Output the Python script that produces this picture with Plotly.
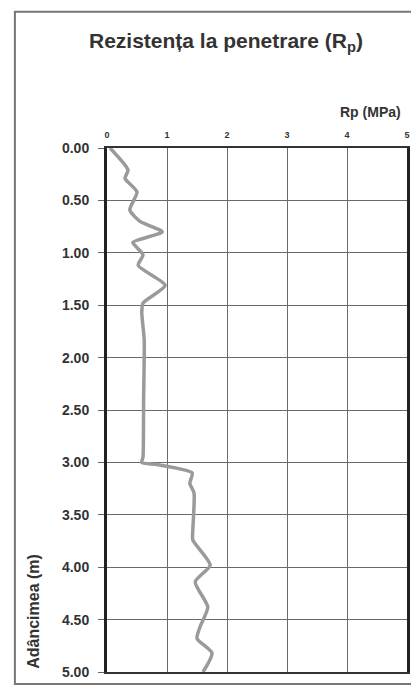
import plotly.graph_objects as go

# Penetration resistance profile
adancime = [0.00, 0.21, 0.29, 0.42, 0.59, 0.70, 0.80, 0.90, 0.95, 1.02, 1.12, 1.31,
            1.48, 1.57, 1.83, 2.40, 2.95, 3.00, 3.02, 3.10, 3.20, 3.29, 3.65, 3.74,
            3.98, 4.14, 4.38, 4.57, 4.68, 4.82, 5.00]
rp = [0.05, 0.35, 0.30, 0.50, 0.38, 0.55, 0.92, 0.43, 0.50, 0.60, 0.52, 0.97,
      0.60, 0.58, 0.62, 0.61, 0.60, 0.58, 0.83, 1.42, 1.38, 1.45, 1.43, 1.43,
      1.72, 1.47, 1.68, 1.55, 1.50, 1.75, 1.60]

y_ticks = [0, 0.5, 1, 1.5, 2, 2.5, 3, 3.5, 4, 4.5, 5]
x_ticks = [0, 1, 2, 3, 4, 5]

fig = go.Figure()
fig.add_trace(go.Scatter(
    x=rp, y=adancime, mode="lines",
    line=dict(color="#9a9a9a", width=3.5, shape="spline", smoothing=0.6),
    showlegend=False, hoverinfo="skip"
))

font = "Liberation Sans, Arial, sans-serif"

fig.update_layout(
    width=411, height=695,
    margin=dict(l=107, r=4, t=148, b=23),
    paper_bgcolor="white", plot_bgcolor="white",
    font=dict(family=font, color="#333333"),
    xaxis=dict(
        side="top", range=[0, 5], tickvals=x_ticks, ticktext=[str(v) for v in x_ticks],
        tickfont=dict(size=9, color="#333333", weight="bold"),
        showgrid=True, gridcolor="#6a6a6a", gridwidth=1,
        showline=True, linecolor="#333333", linewidth=2, mirror=True,
        ticks="", ticklabelstandoff=4, ticklabeloverflow="allow", automargin=False,
        zeroline=False, fixedrange=True
    ),
    yaxis=dict(
        range=[5, 0], tickvals=y_ticks, tickformat=".2f",
        tickfont=dict(size=14, color="#333333", weight="bold"),
        showgrid=True, gridcolor="#6a6a6a", gridwidth=1,
        showline=True, linecolor="#222222", linewidth=3, mirror=True,
        ticks="outside", ticklen=6, tickcolor="#666666", ticklabelstandoff=6,
        automargin=False, zeroline=False, fixedrange=True
    ),
    annotations=[
        dict(text="Rezistența la penetrare (R<sub>p</sub>)", xref="paper", yref="paper",
             x=0.397, y=1.202, xanchor="center", yanchor="middle", showarrow=False,
             font=dict(size=21, color="#333333", weight="bold")),
        dict(text="Rp (MPa)", xref="paper", yref="paper",
             x=0.987, y=1.069, xanchor="right", yanchor="middle", showarrow=False,
             font=dict(size=14, color="#333333", weight="bold")),
        dict(text="Adâncimea (m)", xref="paper", yref="paper", textangle=-90,
             x=-0.243, y=0.115, xanchor="center", yanchor="middle", showarrow=False,
             font=dict(size=16, color="#333333", weight="bold")),
    ],
    shapes=[
        dict(type="rect", xref="paper", yref="paper",
             x0=-0.307, x1=1.017, y0=-0.023, y1=1.26,
             line=dict(color="#777777", width=2), layer="below"),
    ],
)

# drop the default 8px body margin so the figure fills the window exactly
fig.write_html("out.html",
               config={"displayModeBar": False},
               post_script="document.body.style.margin='0';"
                           "document.body.style.overflow='hidden';")
